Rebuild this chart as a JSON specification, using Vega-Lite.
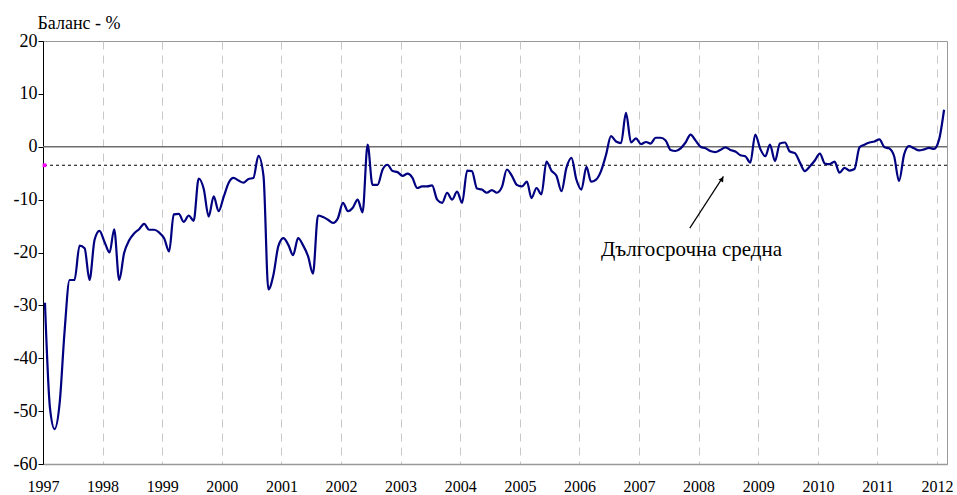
{
  "$schema": "https://vega.github.io/schema/vega-lite/v6.json",
  "autosize": {"type": "none"},
  "padding": {"left": 43, "top": 41, "right": 10, "bottom": 31},
  "width": 904,
  "height": 423,
  "background": "white",
  "config": {
    "view": {"stroke": "#999999", "strokeWidth": 1}
  },
  "datasets": {
    "series": [
      {"d":"1997-01-13","v":-29.5},{"d":"1997-02-13","v":-49.5},{"d":"1997-03-13","v":-53.4},{"d":"1997-04-13","v":-48.5},{"d":"1997-05-13","v":-35},{"d":"1997-06-13","v":-25.2},{"d":"1997-07-13","v":-25.2},{"d":"1997-08-13","v":-18.7},{"d":"1997-09-13","v":-19.2},{"d":"1997-10-13","v":-25.2},{"d":"1997-11-13","v":-17.6},{"d":"1997-12-13","v":-15.9},
      {"d":"1998-01-13","v":-18},{"d":"1998-02-13","v":-20},{"d":"1998-03-13","v":-15.6},{"d":"1998-04-13","v":-25.2},{"d":"1998-05-13","v":-20.1},{"d":"1998-06-13","v":-17.7},{"d":"1998-07-13","v":-16.4},{"d":"1998-08-13","v":-15.6},{"d":"1998-09-13","v":-14.6},{"d":"1998-10-13","v":-15.7},{"d":"1998-11-13","v":-15.7},{"d":"1998-12-13","v":-16.2},
      {"d":"1999-01-13","v":-17.3},{"d":"1999-02-13","v":-19.8},{"d":"1999-03-13","v":-12.8},{"d":"1999-04-13","v":-12.7},{"d":"1999-05-13","v":-14.2},{"d":"1999-06-13","v":-13},{"d":"1999-07-13","v":-14},{"d":"1999-08-13","v":-6},{"d":"1999-09-13","v":-8},{"d":"1999-10-13","v":-13.2},{"d":"1999-11-13","v":-9.4},{"d":"1999-12-13","v":-12.2},
      {"d":"2000-01-13","v":-9.5},{"d":"2000-02-13","v":-6.8},{"d":"2000-03-13","v":-5.9},{"d":"2000-04-13","v":-6.4},{"d":"2000-05-13","v":-6.8},{"d":"2000-06-13","v":-6.1},{"d":"2000-07-13","v":-5.9},{"d":"2000-08-13","v":-1.7},{"d":"2000-09-13","v":-5.5},{"d":"2000-10-13","v":-27},{"d":"2000-11-13","v":-24.2},{"d":"2000-12-13","v":-18.8},
      {"d":"2001-01-13","v":-17.3},{"d":"2001-02-13","v":-18.6},{"d":"2001-03-13","v":-20.5},{"d":"2001-04-13","v":-17.3},{"d":"2001-05-13","v":-18.6},{"d":"2001-06-13","v":-20.7},{"d":"2001-07-13","v":-24},{"d":"2001-08-13","v":-13},{"d":"2001-09-13","v":-13.3},{"d":"2001-10-13","v":-13.8},{"d":"2001-11-13","v":-14.4},{"d":"2001-12-13","v":-13.5},
      {"d":"2002-01-13","v":-10.6},{"d":"2002-02-13","v":-12.2},{"d":"2002-03-13","v":-11.6},{"d":"2002-04-13","v":-10},{"d":"2002-05-13","v":-12.4},{"d":"2002-06-13","v":0.4},{"d":"2002-07-13","v":-7.2},{"d":"2002-08-13","v":-7.2},{"d":"2002-09-13","v":-4.3},{"d":"2002-10-13","v":-3.4},{"d":"2002-11-13","v":-4.6},{"d":"2002-12-13","v":-4.8},
      {"d":"2003-01-13","v":-5.5},{"d":"2003-02-13","v":-5.1},{"d":"2003-03-13","v":-5.8},{"d":"2003-04-13","v":-7.8},{"d":"2003-05-13","v":-7.5},{"d":"2003-06-13","v":-7.5},{"d":"2003-07-13","v":-7.3},{"d":"2003-08-13","v":-10},{"d":"2003-09-13","v":-10.6},{"d":"2003-10-13","v":-8.7},{"d":"2003-11-13","v":-10},{"d":"2003-12-13","v":-8.5},
      {"d":"2004-01-13","v":-10.6},{"d":"2004-02-13","v":-4.5},{"d":"2004-03-13","v":-4.6},{"d":"2004-04-13","v":-7.9},{"d":"2004-05-13","v":-8.1},{"d":"2004-06-13","v":-8.7},{"d":"2004-07-13","v":-8.2},{"d":"2004-08-13","v":-8.7},{"d":"2004-09-13","v":-7.6},{"d":"2004-10-13","v":-4.3},{"d":"2004-11-13","v":-5.5},{"d":"2004-12-13","v":-7.2},
      {"d":"2005-01-13","v":-7.5},{"d":"2005-02-13","v":-6.6},{"d":"2005-03-13","v":-9.7},{"d":"2005-04-13","v":-7.8},{"d":"2005-05-13","v":-9},{"d":"2005-06-13","v":-2.8},{"d":"2005-07-13","v":-4.5},{"d":"2005-08-13","v":-5.5},{"d":"2005-09-13","v":-8.4},{"d":"2005-10-13","v":-4},{"d":"2005-11-13","v":-2.1},{"d":"2005-12-13","v":-6.2},
      {"d":"2006-01-13","v":-8.1},{"d":"2006-02-13","v":-3.8},{"d":"2006-03-13","v":-6.6},{"d":"2006-04-13","v":-6.2},{"d":"2006-05-13","v":-4.6},{"d":"2006-06-13","v":-1.5},{"d":"2006-07-13","v":2},{"d":"2006-08-13","v":1},{"d":"2006-09-13","v":0.7},{"d":"2006-10-13","v":6.4},{"d":"2006-11-13","v":0.8},{"d":"2006-12-13","v":1.6},
      {"d":"2007-01-13","v":0.5},{"d":"2007-02-13","v":0.9},{"d":"2007-03-13","v":0.6},{"d":"2007-04-13","v":1.7},{"d":"2007-05-13","v":1.7},{"d":"2007-06-13","v":1.2},{"d":"2007-07-13","v":-0.6},{"d":"2007-08-13","v":-0.8},{"d":"2007-09-13","v":-0.3},{"d":"2007-10-13","v":0.8},{"d":"2007-11-13","v":2.3},{"d":"2007-12-13","v":1.2},
      {"d":"2008-01-13","v":0},{"d":"2008-02-13","v":-0.3},{"d":"2008-03-13","v":-0.8},{"d":"2008-04-13","v":-1},{"d":"2008-05-13","v":-0.6},{"d":"2008-06-13","v":-0.1},{"d":"2008-07-13","v":-0.6},{"d":"2008-08-13","v":-0.9},{"d":"2008-09-13","v":-1.6},{"d":"2008-10-13","v":-1.8},{"d":"2008-11-13","v":-3},{"d":"2008-12-13","v":2.3},
      {"d":"2009-01-13","v":-0.4},{"d":"2009-02-13","v":-1.8},{"d":"2009-03-13","v":0.4},{"d":"2009-04-13","v":-2.7},{"d":"2009-05-13","v":0.6},{"d":"2009-06-13","v":0.8},{"d":"2009-07-13","v":-0.9},{"d":"2009-08-13","v":-1.2},{"d":"2009-09-13","v":-3},{"d":"2009-10-13","v":-4.6},{"d":"2009-11-13","v":-3.7},{"d":"2009-12-13","v":-2.6},
      {"d":"2010-01-13","v":-1.3},{"d":"2010-02-13","v":-3.2},{"d":"2010-03-13","v":-3.3},{"d":"2010-04-13","v":-2.8},{"d":"2010-05-13","v":-4.9},{"d":"2010-06-13","v":-4},{"d":"2010-07-13","v":-4.5},{"d":"2010-08-13","v":-4.2},{"d":"2010-09-13","v":-0.1},{"d":"2010-10-13","v":0.4},{"d":"2010-11-13","v":0.8},{"d":"2010-12-13","v":1},
      {"d":"2011-01-13","v":1.4},{"d":"2011-02-13","v":-0.1},{"d":"2011-03-13","v":-0.3},{"d":"2011-04-13","v":-1.8},{"d":"2011-05-13","v":-6.5},{"d":"2011-06-13","v":-1.5},{"d":"2011-07-13","v":0.1},{"d":"2011-08-13","v":-0.3},{"d":"2011-09-13","v":-0.7},{"d":"2011-10-13","v":-0.5},{"d":"2011-11-13","v":-0.2},{"d":"2011-12-13","v":-0.4},
      {"d":"2012-01-13","v":1.3},{"d":"2012-02-13","v":7}
    ]
  },
  "encoding": {
    "x": {
      "field": "d", "type": "temporal",
      "scale": {"type": "utc", "domain": [{"year": 1997, "month": 1, "date": 1, "utc": true}, {"year": 2012, "month": 3, "date": 2, "utc": true}], "nice": false},
      "axis": {
        "title": null,
        "values": [
          {"year":1997,"month":1,"date":1,"utc":true},{"year":1998,"month":1,"date":1,"utc":true},{"year":1999,"month":1,"date":1,"utc":true},{"year":2000,"month":1,"date":1,"utc":true},
          {"year":2001,"month":1,"date":1,"utc":true},{"year":2002,"month":1,"date":1,"utc":true},{"year":2003,"month":1,"date":1,"utc":true},{"year":2004,"month":1,"date":1,"utc":true},
          {"year":2005,"month":1,"date":1,"utc":true},{"year":2006,"month":1,"date":1,"utc":true},{"year":2007,"month":1,"date":1,"utc":true},{"year":2008,"month":1,"date":1,"utc":true},
          {"year":2009,"month":1,"date":1,"utc":true},{"year":2010,"month":1,"date":1,"utc":true},{"year":2011,"month":1,"date":1,"utc":true},{"year":2012,"month":1,"date":1,"utc":true}
        ],
        "format": "%Y", "formatType": "utc",
        "grid": true, "gridDash": [8, 6], "gridColor": "#c8c8c8", "gridWidth": 1,
        "ticks": false, "domainColor": "#999999", "domainWidth": 1.5,
        "labelFont": "Liberation Serif", "labelFontSize": 16, "labelColor": "#000000", "labelPadding": 14,
        "labelFlush": false, "labelOverlap": false
      }
    },
    "y": {
      "field": "v", "type": "quantitative",
      "scale": {"domain": [-60, 20], "nice": false, "zero": false},
      "axis": {
        "title": "Баланс - %", "titleAngle": 0, "titleX": -6, "titleY": -13,
        "titleAlign": "left", "titleBaseline": "alphabetic",
        "titleFont": "Liberation Serif", "titleFontSize": 18, "titleFontWeight": "normal", "titleColor": "#000000",
        "values": [-60, -50, -40, -30, -20, -10, 0, 10, 20],
        "labelExpr": "datum.value < 0 ? '-' + abs(datum.value) : '' + datum.value",
        "grid": false, "domainColor": "#000000", "domainWidth": 1,
        "tickColor": "#000000", "tickSize": 5, "tickWidth": 1,
        "labelFont": "Liberation Serif", "labelFontSize": 18, "labelColor": "#000000", "labelPadding": 1
      }
    }
  },
  "layer": [
    {
      "data": {"values": [{"v": 0}]},
      "mark": {"type": "rule", "color": "#6e6e6e", "strokeWidth": 1.4},
      "encoding": {"x": null, "y": {"field": "v", "type": "quantitative"}}
    },
    {
      "data": {"values": [{"v": -3.5}]},
      "mark": {"type": "rule", "color": "#000000", "strokeWidth": 1, "strokeDash": [3, 3]},
      "encoding": {"x": null, "y": {"field": "v", "type": "quantitative"}}
    },
    {
      "data": {"name": "series"},
      "mark": {"type": "line", "color": "#000080", "strokeWidth": 2.2, "interpolate": "monotone"},
      "encoding": {}
    },
    {
      "data": {"values": [{"d": "1997-01-10", "v": -3.5}]},
      "mark": {"type": "point", "shape": "square", "filled": true, "color": "#ff00ff", "size": 14, "opacity": 1},
      "encoding": {}
    },
    {
      "data": {"values": [{"d": "2007-11-08", "v": -15.4, "d2": "2008-06-01", "v2": -5.6}]},
      "mark": {"type": "rule", "color": "#000000", "strokeWidth": 1.2},
      "encoding": {
        "x2": {"field": "d2"},
        "y2": {"field": "v2"}
      }
    },
    {
      "data": {"values": [{"d": "2008-05-24", "v": -6.1}]},
      "mark": {"type": "point", "shape": "triangle-up", "filled": true, "color": "#000000", "size": 30, "angle": 33, "opacity": 1},
      "encoding": {}
    },
    {
      "data": {"values": [{"d": "2006-05-13", "v": -20.6, "label": "Дългосрочна средна"}]},
      "mark": {"type": "text", "align": "left", "baseline": "alphabetic", "font": "Liberation Serif", "fontSize": 21, "color": "#000000"},
      "encoding": {"text": {"field": "label"}}
    }
  ]
}
